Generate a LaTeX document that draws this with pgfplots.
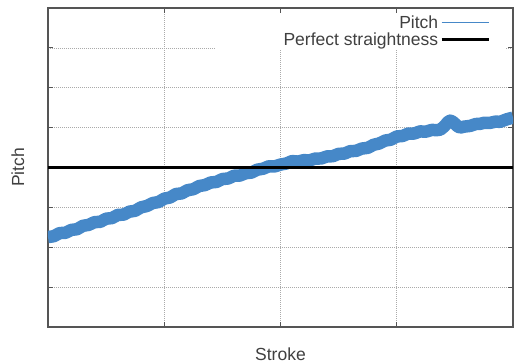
\documentclass[border=0pt]{standalone}
\usepackage{pgfplots}
\pgfplotsset{compat=1.18}
\usepackage{fontspec}
\setmainfont{Liberation Sans}
\usetikzlibrary{calc}

\definecolor{pitchblue}{RGB}{70,136,200}
\definecolor{txtgray}{RGB}{64,64,64}
\definecolor{axgray}{RGB}{85,85,85}
\definecolor{gridgray}{RGB}{170,170,170}

\begin{document}
\begin{tikzpicture}
\begin{axis}[
    scale only axis,
    width=465bp, height=319bp,
    xmin=0, xmax=4, ymin=-4, ymax=4,
    xtick={1,2,3}, ytick={-3,-2,-1,0,1,2,3},
    xticklabels={}, yticklabels={},
    tick align=inside, major tick length=5bp,
    tick style={axgray, line width=0.8bp},
    axis line style={axgray, line width=1.3bp},
    grid=major,
    grid style={gridgray, line width=0.7bp, dash pattern=on 0.8bp off 1.2bp},
    font=\fontsize{17.5bp}{20bp}\selectfont\color{txtgray},
    xlabel={Stroke}, ylabel={Pitch},
    xlabel style={at={(axis description cs:0.5,-0.085)}, anchor=center},
    ylabel style={at={(axis description cs:-0.065,0.5)}, anchor=center},
    legend plot pos=right,
    legend cell align=right,
    legend style={at={(rel axis cs:0.957,0.99)}, anchor=north east,
        draw=none, fill=none, row sep=-1bp,
        font=\fontsize{17.5bp}{20bp}\selectfont\color{txtgray}},
    legend image code/.code={\draw[#1] (4bp,0bp) -- (51bp,0bp);},
]
% opaque key area
\fill[white] (rel axis cs:0.36,0.868) rectangle (rel axis cs:0.985,0.985);

\addplot[forget plot, pitchblue, line width=12.5bp, line join=round] coordinates {
(0.00,-1.745) (0.05,-1.723) (0.10,-1.645) (0.15,-1.638) (0.20,-1.566)
(0.25,-1.548) (0.30,-1.463) (0.35,-1.439) (0.40,-1.371) (0.45,-1.362)
(0.50,-1.284) (0.55,-1.269) (0.60,-1.190) (0.65,-1.182) (0.70,-1.108)
(0.75,-1.085) (0.80,-1.000) (0.85,-0.966) (0.90,-0.892) (0.95,-0.867)
(1.00,-0.782) (1.05,-0.752) (1.10,-0.666) (1.15,-0.650) (1.20,-0.570)
(1.25,-0.545) (1.30,-0.465) (1.35,-0.441) (1.40,-0.376) (1.45,-0.362)
(1.50,-0.290) (1.55,-0.276) (1.60,-0.207) (1.65,-0.203) (1.70,-0.144)
(1.75,-0.128) (1.80,-0.055) (1.85,-0.031) (1.90,0.031) (1.95,0.027)
(2.00,0.073) (2.05,0.100) (2.10,0.161) (2.15,0.148) (2.20,0.184)
(2.25,0.178) (2.30,0.224) (2.35,0.226) (2.40,0.278) (2.45,0.283)
(2.50,0.342) (2.55,0.349) (2.60,0.410) (2.65,0.416) (2.70,0.475)
(2.75,0.492) (2.80,0.568) (2.85,0.603) (2.90,0.675) (2.95,0.698)
(3.00,0.778) (3.05,0.790) (3.10,0.852) (3.15,0.852) (3.20,0.905)
(3.25,0.898) (3.30,0.941) (3.35,0.939) (3.375,0.950) (3.40,1.010)
(3.42,1.070) (3.44,1.140) (3.46,1.175) (3.48,1.150) (3.50,1.100)
(3.52,1.040) (3.544,1.000) (3.58,1.025) (3.63,1.042) (3.68,1.090)
(3.716,1.095) (3.75,1.120) (3.80,1.118) (3.85,1.150) (3.888,1.145)
(3.95,1.212) (4.00,1.250)
};
\addlegendimage{pitchblue, line width=0.8bp}
\addlegendentry{Pitch}

\addplot[black, line width=2.6bp] coordinates {(0,0) (4,0)};
\addlegendentry{Perfect straightness}

\coordinate (sw) at (rel axis cs:0,0);
\coordinate (ne) at (rel axis cs:1,1);
\end{axis}
\pgfresetboundingbox
\path ($(sw)+(-48bp,-37bp)$) rectangle ($(ne)+(6bp,8bp)$);
\end{tikzpicture}
\end{document}
